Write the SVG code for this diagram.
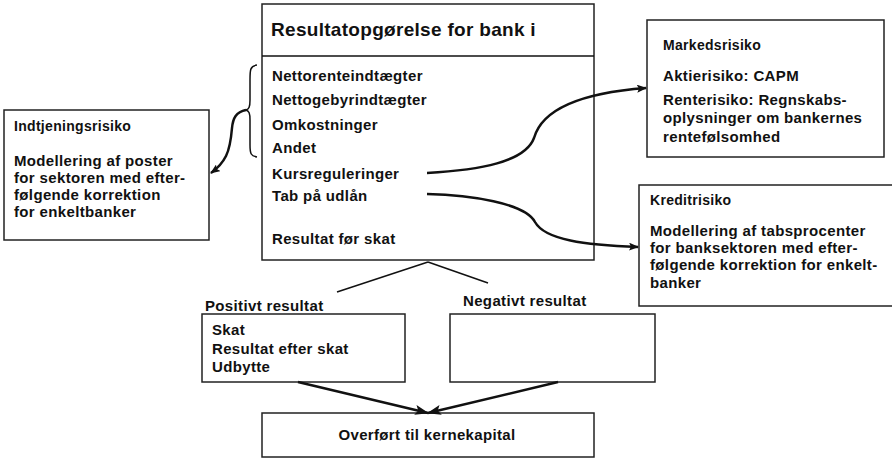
<svg xmlns="http://www.w3.org/2000/svg" width="892" height="459" viewBox="0 0 892 459">
<defs>
<marker id="ah" markerWidth="10" markerHeight="8" refX="9" refY="4" orient="auto" markerUnits="userSpaceOnUse">
<path d="M0,0 L10,4 L0,8 L2,4 Z" fill="#111"/>
</marker>
<marker id="ah2" markerWidth="14" markerHeight="10" refX="13" refY="5" orient="auto" markerUnits="userSpaceOnUse">
<path d="M0,0 L14,5 L0,10 L3,5 Z" fill="#111"/>
</marker>
</defs>
<style>
text{font-family:"Liberation Sans",Arial,sans-serif;font-weight:bold;fill:#111}
.t{font-size:15px;letter-spacing:0.35px}
.h{font-size:14px;letter-spacing:0.3px}
.big{font-size:19px;letter-spacing:0.3px}
.box{fill:#fff;stroke:#222;stroke-width:1.5}
.ln{fill:none;stroke:#111;stroke-width:1.5}
.cv{fill:none;stroke:#111;stroke-width:2.5}
</style>
<rect width="892" height="459" fill="#fff"/>
<g id="resultat">
<rect class="box" x="262" y="4" width="332" height="256"/>
<line class="ln" x1="262" y1="56" x2="594" y2="56"/>
<text class="big" x="271" y="36">Resultatopgørelse for bank i</text>
<text class="t" x="272" y="81">Nettorenteindtægter</text>
<text class="t" x="272" y="105">Nettogebyrindtægter</text>
<text class="t" x="272" y="130">Omkostninger</text>
<text class="t" x="272" y="153">Andet</text>
<text class="t" x="272" y="179">Kursreguleringer</text>
<text class="t" x="272" y="201">Tab på udlån</text>
<text class="t" x="272" y="244">Resultat før skat</text>
</g>
<g id="indtjening">
<rect class="box" x="4" y="110" width="205" height="130"/>
<text class="h" x="14" y="131">Indtjeningsrisiko</text>
<text class="t" x="14" y="166">Modellering af poster</text>
<text class="t" x="14" y="183">for sektoren med efter-</text>
<text class="t" x="14" y="200">følgende korrektion</text>
<text class="t" x="14" y="217">for enkeltbanker</text>
</g>
<g id="markeds">
<rect class="box" x="647" y="20" width="237" height="137"/>
<text class="h" x="663" y="50">Markedsrisiko</text>
<text class="t" x="663" y="81">Aktierisiko: CAPM</text>
<text class="t" x="663" y="105">Renterisiko: Regnskabs-</text>
<text class="t" x="663" y="123">oplysninger om bankernes</text>
<text class="t" x="663" y="142">rentefølsomhed</text>
</g>
<g id="kredit">
<rect class="box" x="639" y="185" width="260" height="121"/>
<text class="h" x="650" y="205">Kreditrisiko</text>
<text class="t" x="650" y="236">Modellering af tabsprocenter</text>
<text class="t" x="650" y="253">for banksektoren med efter-</text>
<text class="t" x="650" y="270">følgende korrektion for enkelt-</text>
<text class="t" x="650" y="288">banker</text>
</g>
<g id="positiv">
<text class="t" x="205" y="311">Positivt resultat</text>
<rect class="box" x="202" y="314" width="203" height="68"/>
<text class="t" x="212" y="335">Skat</text>
<text class="t" x="212" y="354">Resultat efter skat</text>
<text class="t" x="212" y="372">Udbytte</text>
</g>
<g id="negativ">
<text class="t" x="463" y="306">Negativt resultat</text>
<rect class="box" x="450" y="314" width="205" height="68"/>
</g>
<g id="kernekapital">
<rect class="box" x="262" y="413" width="332" height="44"/>
<text class="t" x="427" y="440" text-anchor="middle">Overført til kernekapital</text>
</g>
<g id="connectors">
<path class="ln" d="M257,65 C250,66 250,70 250,80 L250,100 C250,107 249,109 246,110 C249,111 250,113 250,120 L250,145 C250,154 251,156 257,157"/>
<path class="cv" d="M246,110 C236,112 233,118 232,128 C231,140 230,148 226,156 C222,164 218,168 211,173" marker-end="url(#ah)"/>
<path class="cv" d="M427,173 C480,170 525,162 534,138 C542,110 580,93 646,88" marker-end="url(#ah)"/>
<path class="cv" d="M427,194 C470,195 525,203 535,222 C545,240 585,245 638,247" marker-end="url(#ah)"/>
<line class="ln" x1="428" y1="262" x2="337" y2="292"/>
<line class="ln" x1="428" y1="262" x2="488" y2="283"/>
<line class="cv" x1="298" y1="382" x2="428" y2="413" marker-end="url(#ah2)"/>
<line class="cv" x1="558" y1="382" x2="428" y2="413" marker-end="url(#ah2)"/>
</g>
</svg>
